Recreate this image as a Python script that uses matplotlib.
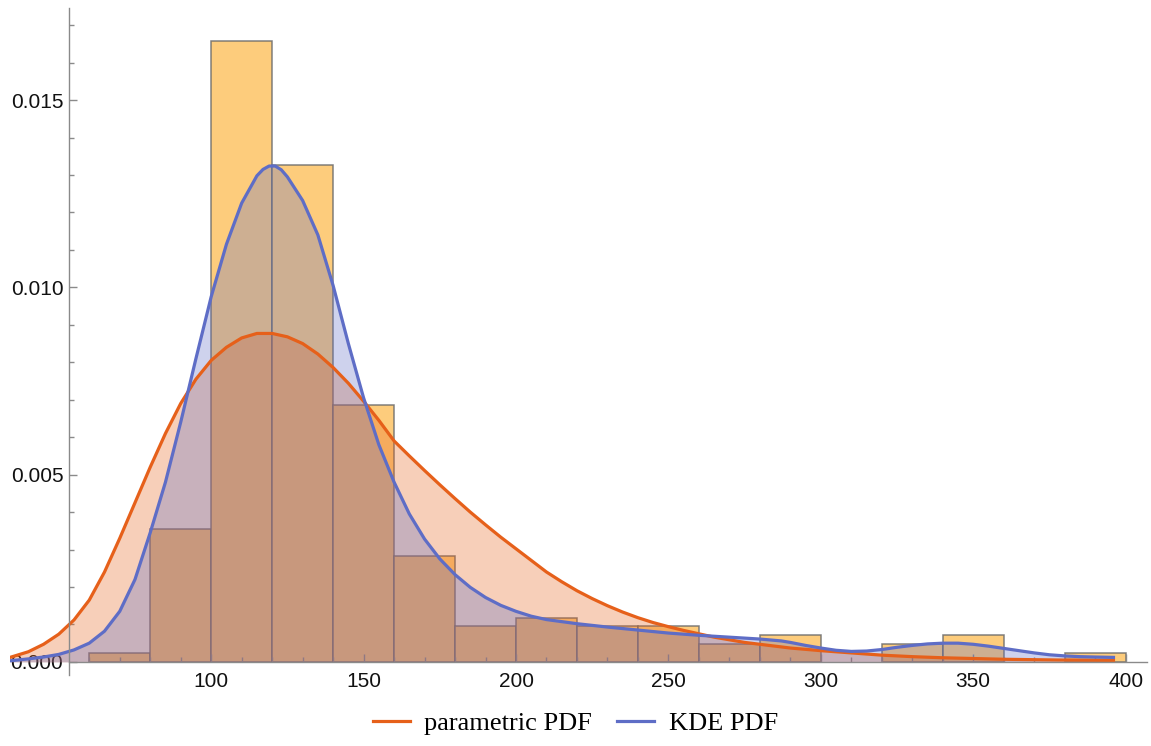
import matplotlib
matplotlib.use("Agg")
import matplotlib.pyplot as plt
from matplotlib.ticker import FixedLocator
from matplotlib.lines import Line2D

# histogram (density, bin width 20)
bin_left = [60, 80, 100, 120, 140, 160, 180, 200, 220, 240, 260, 280, 300, 320, 340, 360, 380]
density = [0.000237, 0.00355, 0.01659, 0.01327, 0.00687, 0.00284, 0.00095, 0.00118, 0.00095,
           0.00095, 0.00047, 0.00071, 0.0, 0.00047, 0.00071, 0.0, 0.000237]

# parametric PDF
par_x = [34, 40, 45, 50, 55, 60, 65, 70, 75, 80, 85, 90, 95, 100, 105, 110, 115, 120, 125,
         130, 135, 140, 145, 150, 155, 160, 165, 170, 175, 180, 185, 190, 195, 200, 205, 210,
         215, 220, 225, 230, 235, 240, 245, 250, 255, 260, 265, 270, 275, 280, 285, 290, 300,
         310, 320, 330, 340, 350, 360, 378, 396]
par_y = [0.00012, 0.00027, 0.00047, 0.00074, 0.00112, 0.00165, 0.0024, 0.0033, 0.00425,
         0.0052, 0.0061, 0.0069, 0.00755, 0.00805, 0.0084, 0.00865, 0.00877, 0.00877, 0.00868,
         0.0085, 0.00822, 0.00786, 0.00744, 0.00696, 0.00645, 0.0059, 0.0055, 0.00511, 0.00473,
         0.00436, 0.004, 0.00366, 0.00333, 0.00302, 0.00271, 0.0024, 0.00214, 0.0019, 0.00169,
         0.0015, 0.00133, 0.00118, 0.00105, 0.00094, 0.00084, 0.00075, 0.00066, 0.00059,
         0.00052, 0.00047, 0.00042, 0.00037, 0.0003, 0.00024, 0.00018, 0.00014, 0.00011,
         0.00009, 0.00007, 0.00005, 0.00004]

# KDE PDF
kde_x = [34, 40, 45, 50, 55, 60, 65, 70, 75, 80, 85, 90, 95, 100, 105, 110, 115, 117, 119,
         121, 123, 125, 130, 135, 140, 145, 150, 155, 160, 165, 170, 175, 180, 185, 190, 195,
         200, 205, 210, 220, 230, 240, 250, 260, 270, 280, 287, 290, 295, 300, 305, 310, 315,
         320, 325, 330, 335, 340, 345, 350, 355, 360, 365, 370, 375, 380, 385, 390, 396]
kde_y = [0.00003, 0.00008, 0.00013, 0.0002, 0.00032, 0.0005, 0.00082, 0.00135, 0.0022,
         0.00345, 0.0048, 0.0064, 0.0081, 0.00975, 0.01115, 0.01225, 0.01298, 0.01315, 0.01324,
         0.01324, 0.01314, 0.01295, 0.01232, 0.0114, 0.01005, 0.0085, 0.00705, 0.0058, 0.0048,
         0.00395, 0.00328, 0.00275, 0.00233, 0.00199, 0.00172, 0.00151, 0.00135, 0.00122,
         0.00113, 0.00102, 0.00093, 0.00085, 0.00077, 0.00071, 0.00066, 0.00061, 0.00056,
         0.00052, 0.00044, 0.00037, 0.00031, 0.00028, 0.00029, 0.00033, 0.00039, 0.00044,
         0.00048, 0.0005, 0.0005, 0.00047, 0.00042, 0.00036, 0.0003, 0.00024, 0.00019,
         0.00016, 0.00014, 0.00013, 0.00012]

orange = "#E6601A"
blue = "#5E6DC6"
axis_col = "#8a8a8a"

fig = plt.figure(figsize=(11.51, 7.46), dpi=100)
ax = fig.add_axes([10 / 1151, 71 / 746, 1137 / 1151, 667 / 746])

lefts = [b for b, d in zip(bin_left, density) if d > 0]
heights = [d for d in density if d > 0]
ax.bar(lefts, heights, width=20, align="edge", color="#FDCC7C",
       edgecolor=(0.42, 0.42, 0.42, 0.85), linewidth=1.1, zorder=1)

ax.fill_between(par_x, 0, par_y, color=orange, alpha=0.3, lw=0, zorder=2)
ax.fill_between(kde_x, 0, kde_y, color=blue, alpha=0.3, lw=0, zorder=3)
ax.plot(par_x, par_y, color=orange, lw=2.3, zorder=4, solid_joinstyle="round")
ax.plot(kde_x, kde_y, color=blue, lw=2.3, zorder=5, solid_joinstyle="round")

ax.set_xlim(34, 407)
ax.set_ylim(-0.00035, 0.01746)

for s in ["top", "right"]:
    ax.spines[s].set_visible(False)
ax.spines["left"].set_position(("data", 53.3))
ax.spines["bottom"].set_position(("data", 0))
ax.spines["bottom"].set_bounds(53.3, 407)
for s in ["left", "bottom"]:
    ax.spines[s].set_color(axis_col)
    ax.spines[s].set_linewidth(1.0)
    ax.spines[s].set_zorder(6)

ax.xaxis.set_major_locator(FixedLocator([100, 150, 200, 250, 300, 350, 400]))
ax.xaxis.set_minor_locator(FixedLocator([v for v in range(60, 401, 10) if v % 50 != 0]))
ax.yaxis.set_major_locator(FixedLocator([0, 0.005, 0.010, 0.015]))
ax.yaxis.set_minor_locator(FixedLocator([i * 0.001 for i in range(1, 18) if i % 5 != 0]))
ax.set_yticklabels(["0.000", "0.005", "0.010", "0.015"])

ax.tick_params(which="both", direction="in", color=axis_col, width=1.0,
               labelsize=15, labelcolor="#111111")
ax.tick_params(which="major", length=6)
ax.tick_params(which="minor", length=3.6)
ax.tick_params(axis="x", which="major", pad=7)
ax.tick_params(axis="y", which="major", pad=4)
for lab in ax.get_xticklabels() + ax.get_yticklabels():
    lab.set_fontfamily("Liberation Sans")

handles = [Line2D([], [], color=orange, lw=2.3), Line2D([], [], color=blue, lw=2.3)]
fig.legend(handles, ["parametric PDF", "KDE PDF"], loc="center", ncol=2,
           bbox_to_anchor=(0.5, 0.03), frameon=False,
           prop={"family": "Liberation Serif", "size": 19},
           handlelength=1.4, handletextpad=0.55, columnspacing=0.95)

fig.savefig("out.png", dpi=100)
